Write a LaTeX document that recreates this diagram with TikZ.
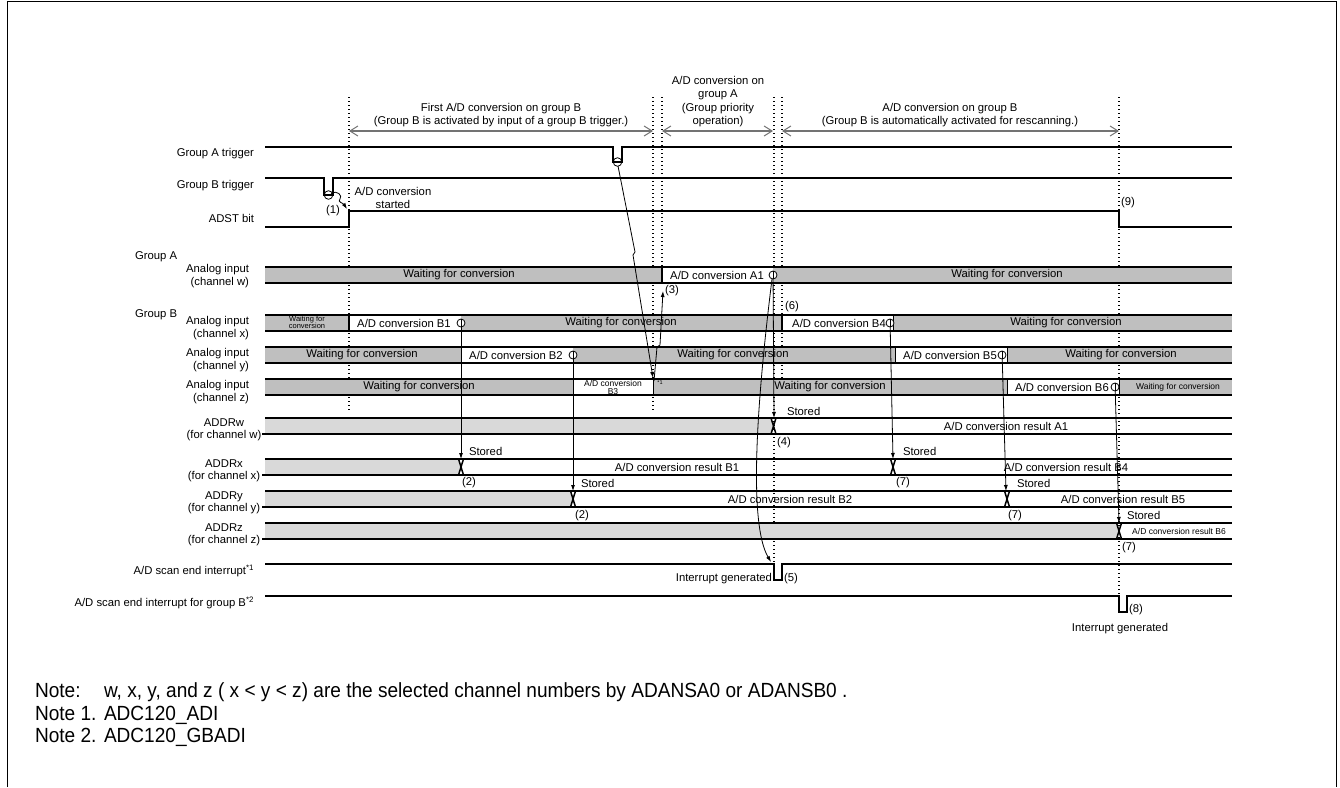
\documentclass[tikz,border=0pt]{standalone}
\usepackage{fontspec}
\setmainfont{Liberation Sans}
\newfontfamily\notefont[FakeStretch=0.93]{Liberation Sans}
\usetikzlibrary{arrows.meta,calc}
\begin{document}
\begin{tikzpicture}[x=1pt,y=-1pt,
  every node/.style={inner sep=0pt, outer sep=0pt, font=\fontsize{11.3}{12.5}\selectfont},
  smalltxt/.style={font=\fontsize{8.5}{8}\selectfont},
  tinytxt/.style={font=\fontsize{7.5}{7}\selectfont},
  sigline/.style={line width=1.8pt},
  bedge/.style={line width=1.8pt},
  guide/.style={line width=1.1pt, dash pattern=on 1.3pt off 2.7pt},
  ptr/.style={line width=0.8pt, -{Latex[length=6pt,width=4pt]}},
  rangearrow/.style={line width=1.2pt, draw=black!55, {Straight Barb[length=8pt,width=10pt,line width=1pt]}-{Straight Barb[length=8pt,width=10pt,line width=1pt]}},
  waitfill/.style={fill=black!25},
  regfill/.style={fill=black!15},
  endmark/.style={line width=0.8pt, fill=white},
  notetxt/.style={font=\notefont\fontsize{20.5}{24}\selectfont},
]
\useasboundingbox (0,0) rectangle (1340,787);
% frame
\draw[line width=1pt] (7,787) -- (7,1) -- (1336,1) -- (1336,787);

% dotted guides
\draw[guide] (349,97) -- (349,412);
\draw[guide] (653,97) -- (653,412);
\draw[guide] (662,97) -- (662,267);
\draw[guide] (774,97) -- (774,563);
\draw[guide] (782,97) -- (782,378);
\draw[guide] (1119,97) -- (1119,596);

% range arrows and texts
\coordinate (r1a) at (349,131); \coordinate (r1b) at (653,131);
\coordinate (r2a) at (662,131); \coordinate (r2b) at (773,131);
\coordinate (r3a) at (782,131); \coordinate (r3b) at (1119,131);
\draw[rangearrow] (r1a) -- (r1b);
\draw[rangearrow] (r2a) -- (r2b);
\draw[rangearrow] (r3a) -- (r3b);
\node[align=center, font=\fontsize{11.3}{13.6}\selectfont] (t1) at (501,115) {First A/D conversion on group B\\(Group B is activated by input of a group B trigger.)};
\node[align=center, font=\fontsize{11.3}{13.6}\selectfont] (t2) at (718,101.5) {A/D conversion on\\group A\\(Group priority\\operation)};
\node[align=center, font=\fontsize{11.3}{13.6}\selectfont] (t3) at (950,115) {A/D conversion on group B\\(Group B is automatically activated for rescanning.)};

% left labels
\node[anchor=east] (lga) at (254,154) {Group A trigger};
\node[anchor=east] (lgb) at (254,186) {Group B trigger};
\node[anchor=east] (ladst) at (254,218) {ADST bit};
\node[anchor=west] (lgrpA) at (135,257) {Group A};
\node[anchor=east, align=right] (lw) at (249,276) {Analog input\\(channel w)};
\node[anchor=west] (lgrpB) at (135,315) {Group B};
\node[anchor=east, align=right] (lx) at (249,328) {Analog input\\(channel x)};
\node[anchor=east, align=right] (ly) at (249,360) {Analog input\\(channel y)};
\node[anchor=east, align=right] (lz) at (249,392) {Analog input\\(channel z)};
\node[align=center] (laddrw) at (224,430) {ADDRw\\(for channel w)};
\node[align=center] (laddrx) at (224,471) {ADDRx\\(for channel x)};
\node[align=center] (laddry) at (224,503) {ADDRy\\(for channel y)};
\node[align=center] (laddrz) at (224,535) {ADDRz\\(for channel z)};
\node[anchor=east] (lint1) at (254,571) {A/D scan end interrupt\textsuperscript{*1}};
\node[anchor=east] (lint2) at (254,603) {A/D scan end interrupt for group B\textsuperscript{*2}};

% trigger signals
\draw[sigline] (265,147) -- (613,147) -- (613,162) -- (622,162) -- (622,147) -- (1232,147);
\draw[line width=0.8pt] (617.5,162) circle[radius=4.3];
\draw[sigline] (265,178) -- (324,178) -- (324,195) -- (333,195) -- (333,178) -- (1232,178);
\draw[line width=0.8pt] (328.5,195) circle[radius=4.3];
\draw[sigline] (265,227) -- (349,227) -- (349,211) -- (1119,211) -- (1119,227) -- (1232,227);
\node (adstart) at (393,198) [align=center] {A/D conversion\\started};
\node (n1) at (333,211) {(1)};
\node[anchor=west] (n9) at (1121,203) {(9)};
\coordinate (bcirc) at (331,194);
\coordinate (adstrise) at (347,209);
\draw[ptr] (bcirc) .. controls (337,189) and (343,196) .. (340,199) .. controls (337,202) and (343,203) .. (adstrise);

% ---- analog input rows ----
% channel w
\fill[waitfill] (265,267) rectangle (1232,283);
\fill[white] (662,267) rectangle (773,283);
\draw[bedge] (265,267) -- (1232,267); \draw[bedge] (265,283) -- (1232,283);
\draw[bedge] (662,267) -- (662,283);
\node (w1) at (459,275) {Waiting for conversion};
\node (a1) at (717,275) {A/D conversion A1};
\node (w2) at (1007,275) {Waiting for conversion};

% channel x
\fill[waitfill] (265,315) rectangle (1232,331);
\fill[white] (349,315) rectangle (461,331);
\fill[white] (782,315) rectangle (893,331);
\draw[bedge] (265,315) -- (1232,315); \draw[bedge] (265,331) -- (1232,331);
\draw[bedge] (349,315) -- (349,331);
\draw[bedge] (782,315) -- (782,331);
\draw[bedge] (893.5,315) -- (893.5,331);
\node[tinytxt, align=center] (x0) at (307,322) {Waiting for\\conversion};
\node (b1) at (404,323) {A/D conversion B1};
\node (x1) at (621,323) {Waiting for conversion};
\node (b4) at (839,323) {A/D conversion B4};
\node (x2) at (1066,323) {Waiting for conversion};

% channel y
\fill[waitfill] (265,347) rectangle (1232,363);
\fill[white] (461,347) rectangle (573,363);
\fill[white] (895,347) rectangle (1007,363);
\draw[bedge] (265,347) -- (1232,347); \draw[bedge] (265,363) -- (1232,363);
\draw[bedge] (461.5,347) -- (461.5,363);
\draw[bedge] (895.5,347) -- (895.5,363);
\draw[bedge] (1007.5,347) -- (1007.5,363);
\node (y0) at (362,355) {Waiting for conversion};
\node (b2) at (516,355) {A/D conversion B2};
\node (y1) at (733,355) {Waiting for conversion};
\node (b5) at (950,355) {A/D conversion B5};
\node (y2) at (1121,355) {Waiting for conversion};

% channel z
\fill[waitfill] (265,379) rectangle (1232,395);
\fill[white] (573,379) rectangle (653,395);
\fill[white] (1007,379) rectangle (1119,395);
\draw[bedge] (265,379) -- (1232,379); \draw[bedge] (265,395) -- (1232,395);
\draw[bedge] (573.5,379) -- (573.5,395);
\draw[bedge] (653.5,379) -- (653.5,395);
\draw[bedge] (1007.5,379) -- (1007.5,395);
\draw[bedge] (1119.5,379) -- (1119.5,395);
\node (z0) at (419,387) {Waiting for conversion};
\node[smalltxt, align=center] (b3) at (613,387) {A/D conversion\\B3};
\node[font=\fontsize{5.5}{6}\selectfont] (star1) at (660,383) {*1};
\node (z1) at (830,387) {Waiting for conversion};
\node (b6) at (1062,387) {A/D conversion B6};
\node[smalltxt] (z2) at (1178,387) {Waiting for conversion};

% ---- ADDR rows ----
% ADDRw
\fill[regfill] (265,418) -- (771,418) -- (773.5,426) -- (771,434) -- (265,434) -- cycle;
\draw[bedge] (265,418) -- (1232,418); \draw[bedge] (262,434) -- (1232,434);
\draw[line width=1.5pt] (771,418) -- (776,434) (771,434) -- (776,418);
\node (ra1) at (1006,426) {A/D conversion result A1};
% ADDRx
\fill[regfill] (265,459) -- (458.5,459) -- (461,467) -- (458.5,475) -- (265,475) -- cycle;
\draw[bedge] (265,459) -- (1232,459); \draw[bedge] (262,475) -- (1232,475);
\draw[line width=1.5pt] (458.5,459) -- (463.5,475) (458.5,475) -- (463.5,459);
\draw[line width=1.5pt] (890.5,459) -- (895.5,475) (890.5,475) -- (895.5,459);
\node (rb1) at (677,467) {A/D conversion result B1};
\node (rb4) at (1066,467) {A/D conversion result B4};
% ADDRy
\fill[regfill] (265,491) -- (570.5,491) -- (573,499) -- (570.5,507) -- (265,507) -- cycle;
\draw[bedge] (265,491) -- (1232,491); \draw[bedge] (262,507) -- (1232,507);
\draw[line width=1.5pt] (570.5,491) -- (575.5,507) (570.5,507) -- (575.5,491);
\draw[line width=1.5pt] (1004.5,491) -- (1009.5,507) (1004.5,507) -- (1009.5,491);
\node (rb2) at (790,499) {A/D conversion result B2};
\node (rb5) at (1123,499) {A/D conversion result B5};
% ADDRz
\fill[regfill] (265,523) -- (1116.5,523) -- (1119,531) -- (1116.5,539) -- (265,539) -- cycle;
\draw[bedge] (265,523) -- (1232,523); \draw[bedge] (262,539) -- (1232,539);
\draw[line width=1.5pt] (1116.5,523) -- (1121.5,539) (1116.5,539) -- (1121.5,523);
\node[smalltxt] (rb6) at (1179,531) {A/D conversion result B6};

% stored labels and step numbers
\node[anchor=west] (s0) at (787,411) {Stored};
\node[anchor=west] (n4) at (777,443) {(4)};
\node[anchor=west] (s1) at (469,451) {Stored};
\node[anchor=west] (n2a) at (462,483) {(2)};
\node[anchor=west] (s2) at (581,483) {Stored};
\node[anchor=west] (n2b) at (575,516) {(2)};
\node[anchor=west] (s4) at (903,451) {Stored};
\node[anchor=west] (n7a) at (896,483) {(7)};
\node[anchor=west] (s5) at (1017,483) {Stored};
\node[anchor=west] (n7b) at (1008,516) {(7)};
\node[anchor=west] (s6) at (1127,515) {Stored};
\node[anchor=west] (n7c) at (1122,548) {(7)};
\node[anchor=west] (n3) at (665,291) {(3)};
\node[anchor=west] (n6) at (785,307) {(6)};

% interrupt signals
\draw[sigline] (265,564) -- (774,564) -- (774,580) -- (782,580) -- (782,564) -- (1232,564);
\draw[sigline] (265,596) -- (1119,596) -- (1119,612) -- (1127,612) -- (1127,596) -- (1232,596);
\node[anchor=east] (ig1) at (772,579) {Interrupt generated};
\node[anchor=west] (n5) at (784,579) {(5)};
\node[anchor=west] (n8) at (1129,610) {(8)};
\node (ig2) at (1120,629) {Interrupt generated};

% ---- conversion end marks and arrows ----
\coordinate (cB1) at (461,323); \coordinate (dB1) at (461,459);
\coordinate (cB2) at (573,355); \coordinate (dB2) at (573,491);
\coordinate (cA1) at (773,275); \coordinate (dA1) at (774,418);
\coordinate (iA1) at (771,562);
\coordinate (cB4) at (890,323); \coordinate (dB4) at (893,459);
\coordinate (cB5) at (1002,355); \coordinate (dB5) at (1006,491);
\coordinate (cB6) at (1115,387); \coordinate (dB6) at (1119,523);
\draw[ptr] (461,319) -- (dB1);
\draw[ptr] (573,351) -- (dB2);
\draw[ptr] (773,271) -- (dA1);
\draw[ptr] (772,279) .. controls (752,440) and (752,530) .. (iA1);
\draw[ptr] (890,319) -- (dB4);
\draw[ptr] (1002,351) -- (dB5);
\draw[ptr] (1115,383) -- (dB6);
\foreach \p in {cB1,cB2,cA1,cB4,cB5,cB6} \draw[endmark] (\p) circle[radius=4];
\foreach \p in {cB1,cB2,cA1,cB4,cB5,cB6} \draw[line width=0.8pt] ($(\p)+(0,-4)$) -- ($(\p)+(0,4)$);

% trigger A -> B3 end, and (3)
\coordinate (acirc) at (618,166);
\coordinate (b3end) at (653,378);
\coordinate (b3bot) at (654,381);
\coordinate (a1start) at (663,291);
\draw[ptr] (acirc) -- (635,252) -- (633,255) -- (b3end);
\draw[ptr] (b3bot) -- (657,347) -- (660,345) -- (a1start);

% notes
\node[notetxt, anchor=base west] (note0) at (35,697) {Note:};
\node[notetxt, anchor=base west] (note0t) at (104,697) {w, x, y, and z ( x < y < z) are the selected channel numbers by ADANSA0 or ADANSB0 .};
\node[notetxt, anchor=base west] (note1) at (35,720) {Note 1.};
\node[notetxt, anchor=base west] (note1t) at (104,720) {ADC120\_ADI};
\node[notetxt, anchor=base west] (note2) at (35,742) {Note 2.};
\node[notetxt, anchor=base west] (note2t) at (104,742) {ADC120\_GBADI};
\end{tikzpicture}
\end{document}
